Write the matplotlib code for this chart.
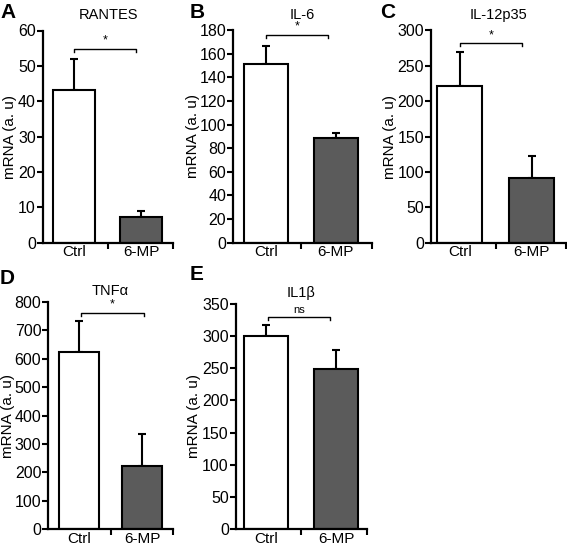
import matplotlib
matplotlib.use("Agg")
import matplotlib.pyplot as plt

plt.rcParams['font.family'] = ['Liberation Sans', 'DejaVu Sans']

# data
groups = ["Ctrl", "6-MP"]
titles = ["RANTES", "IL-6", "IL-12p35", "TNF\u03b1", "IL1\u03b2"]
letters = ["A", "B", "C", "D", "E"]
means_rantes = [43.2, 7.2]
err_rantes = [8.8, 1.8]
means_il6 = [151, 89]
err_il6 = [15.5, 3.5]
means_il12 = [221, 92]
err_il12 = [48, 31]
means_tnf = [625, 222]
err_tnf = [108, 113]
means_il1b = [301, 249]
err_il1b = [17, 30]
ymax = [60, 180, 300, 800, 350]
ystep = [10, 20, 50, 100, 50]
signif = ["*", "*", "*", "*", "ns"]

means = [means_rantes, means_il6, means_il12, means_tnf, means_il1b]
errs = [err_rantes, err_il6, err_il12, err_tnf, err_il1b]

W, H = 567, 545
fig = plt.figure(figsize=(W / 100, H / 100), dpi=100)

# axes boxes in pixels: left, right, top, bottom
boxes = [(42.7, 173.3, 30.5, 242.7),
         (233.3, 371.7, 30.0, 242.7),
         (431.0, 566.0, 30.5, 242.7),
         (48.3, 172.7, 302.0, 529.0),
         (235.7, 366.7, 304.0, 529.0)]
xlims = [(-0.47, 1.48), (-0.465, 1.515), (-0.40, 1.48), (-0.49, 1.48), (-0.44, 1.44)]
brk_y = [54.8, 175.8, 282, 761, 330]
brk_x = [(0.0, 0.93), (0.0, 0.89), (0.0, 0.87), (0.03, 1.02), (0.03, 0.92)]
ylab_x = [17, 200, 397, 15, 201]
title_y = [15, 15, 15, 291, 293]
letter_pos = [(0, 13), (190, 13), (380, 13), (0, 278), (190, 275)]

for i in range(5):
    l, r, t, b = boxes[i]
    ax = fig.add_axes([l / W, 1 - b / H, (r - l) / W, (b - t) / H])
    ax.bar([0, 1], means[i], width=0.63, color=["white", "#5b5b5b"],
           edgecolor="black", linewidth=1.5, zorder=2)
    ax.errorbar([0, 1], means[i], yerr=[[0, 0], errs[i]], fmt="none",
                ecolor="black", elinewidth=1.5, capsize=3, capthick=1.5, zorder=1)
    ax.set_xlim(*xlims[i])
    ax.set_ylim(0, ymax[i])
    ax.set_yticks(range(0, ymax[i] + 1, ystep[i]))
    ax.set_xticks([0.5, xlims[i][1]])
    ax.set_xticklabels([])
    ax.set_xticks([0, 1], minor=True)
    ax.set_xticklabels(groups, minor=True)
    ax.tick_params(axis="x", which="minor", length=0, pad=2, labelsize=11)
    for s in ["top", "right"]:
        ax.spines[s].set_visible(False)
    for s in ["left", "bottom"]:
        ax.spines[s].set_linewidth(1.6)
    ax.tick_params(axis="both", which="major", direction="out", length=4, width=1.5,
                   labelsize=11.5, pad=1)
    ax.set_ylabel("mRNA (a. u)", fontsize=11)
    ax.yaxis.set_label_coords(ylab_x[i] / W, 1 - ((t + b) / 2) / H, transform=fig.transFigure)
    # significance bracket
    x0, x1 = brk_x[i]
    y = brk_y[i]
    d = ymax[i] * 0.015
    ax.plot([x0, x0, x1, x1], [y - d, y, y, y - d], color="black", lw=1, clip_on=False)
    ax.text((x0 + x1) / 2, y + ymax[i] * 0.01, signif[i], ha="center", va="bottom",
            fontsize=8 if signif[i] == "ns" else 9)
    fig.text(((l + r) / 2) / W, 1 - title_y[i] / H, titles[i], ha="center", va="center",
             fontsize=10.5)
    lx, ly = letter_pos[i]
    fig.text(lx / W, 1 - ly / H, letters[i], ha="left", va="center",
             fontsize=15, fontweight="bold")

fig.savefig("out.png", dpi=100)
